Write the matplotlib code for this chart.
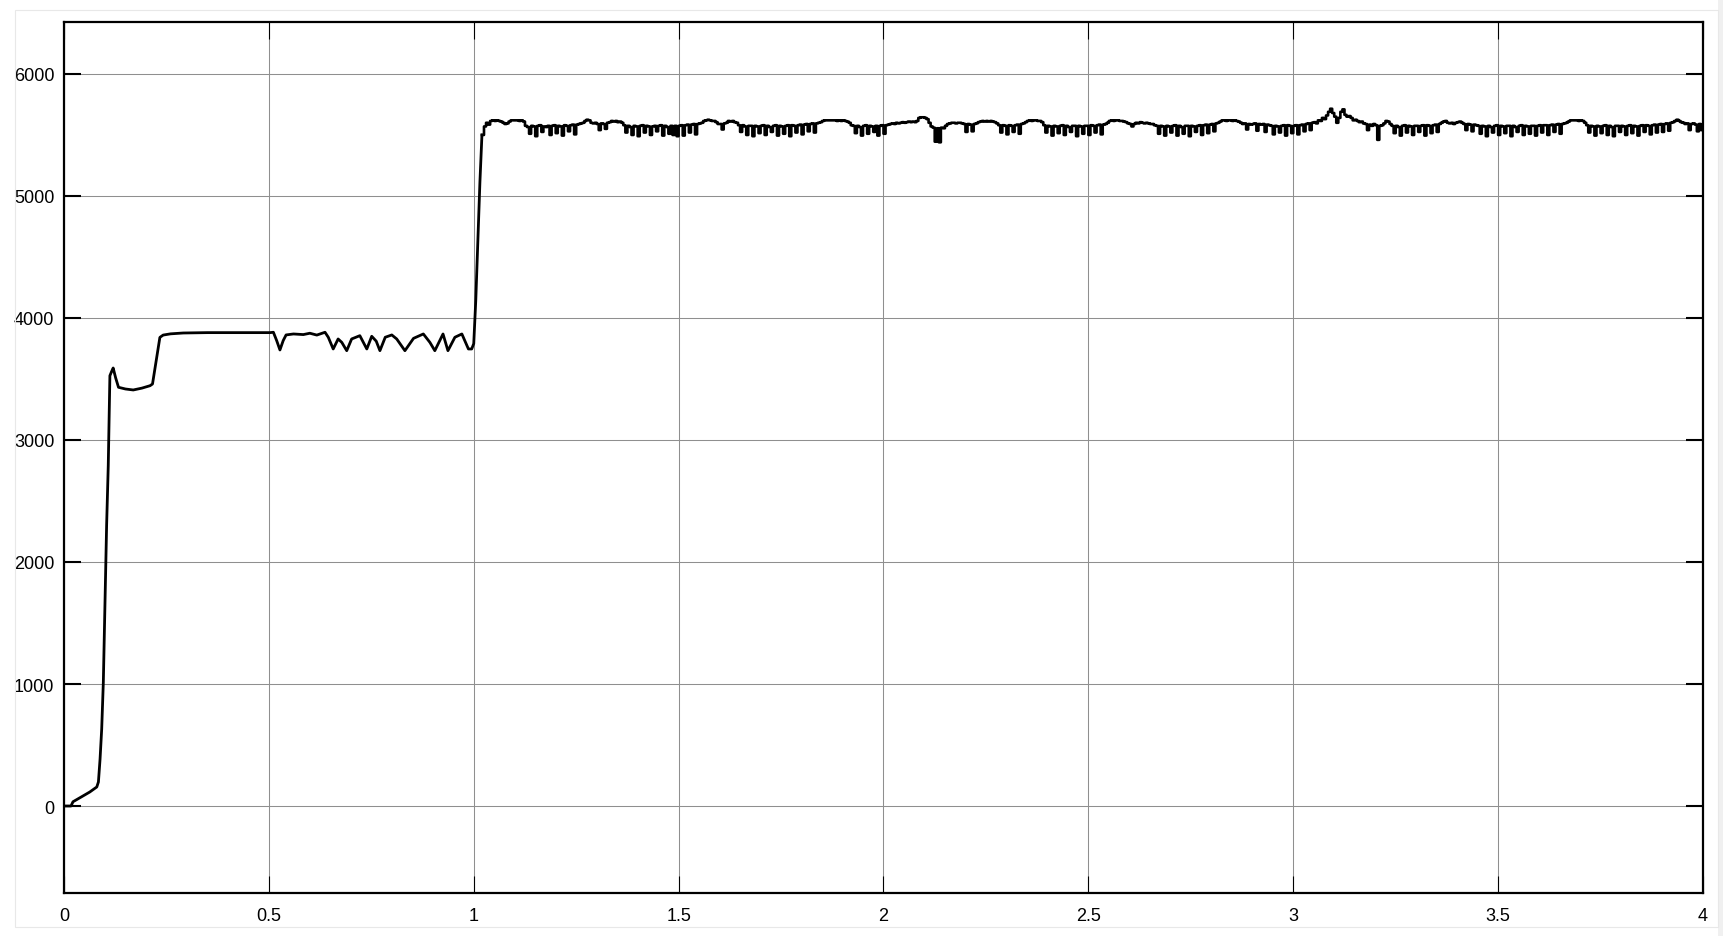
import numpy as np
import matplotlib
matplotlib.use('Agg')
import matplotlib.pyplot as plt
from matplotlib.patches import Rectangle

# start-up part of the response (time in s, value)
t_start = [0, 0.017, 0.022, 0.04, 0.063, 0.08, 0.084, 0.088, 0.092, 0.096, 0.099,
           0.104, 0.108, 0.112, 0.116, 0.120, 0.126, 0.133, 0.15, 0.169, 0.19,
           0.21, 0.216, 0.225, 0.234, 0.242, 0.26, 0.291, 0.35, 0.40, 0.45, 0.503]
v_start = [0, 0, 35, 70, 115, 156, 197, 385, 631, 1016, 1500,
           2300, 2789, 3527, 3560, 3590, 3510, 3432, 3418, 3410, 3425,
           3445, 3459, 3650, 3841, 3860, 3870, 3877, 3880, 3880, 3880, 3880]

# 0.5 .. 1.0 s ripple
t_ripple = [0.511, 0.519, 0.527, 0.535, 0.542, 0.560, 0.584, 0.600, 0.617, 0.637,
            0.645, 0.657, 0.669, 0.678, 0.690, 0.702, 0.722, 0.739, 0.751, 0.762,
            0.771, 0.784, 0.800, 0.812, 0.832, 0.853, 0.877, 0.893, 0.905, 0.925,
            0.937, 0.954, 0.971, 0.987, 0.995, 1.0, 1.005, 1.010, 1.015, 1.020]
v_ripple = [3883, 3815, 3738, 3815, 3861, 3869, 3864, 3875, 3860, 3883,
            3842, 3746, 3828, 3800, 3732, 3828, 3855, 3746, 3850, 3810,
            3732, 3842, 3861, 3828, 3732, 3833, 3869, 3800, 3732, 3869,
            3732, 3842, 3869, 3746, 3746, 3790, 4150, 4630, 5110, 5500]

# 1.02 .. 4.0 s, held samples every 5 ms
v_high = [
    5500, 5570, 5600, 5585, 5615, 5620, 5615, 5620, 5615, 5610, 5600, 5590, 5595, 5610, 5620, 5620,
    5620, 5620, 5615, 5620, 5610, 5575, 5565, 5510, 5575, 5570, 5490, 5575, 5580, 5525, 5570, 5565, 5575, 5500, 5575, 5580,
    5515, 5575, 5570, 5495, 5580, 5575, 5530, 5580, 5585, 5505, 5585, 5590, 5595, 5600, 5615, 5625, 5620, 5600, 5595, 5600,
    5590, 5540, 5595, 5590, 5550, 5600, 5605, 5615, 5610, 5615, 5605, 5610, 5600, 5580, 5520, 5575, 5565, 5500, 5575, 5570,
    5490, 5575, 5580, 5520, 5575, 5570, 5500, 5570, 5575, 5530, 5575, 5580, 5495, 5575, 5565, 5510, 5575, 5500, 5575, 5490,
    5575, 5580, 5495, 5580, 5585, 5520, 5585, 5590, 5505, 5590, 5595, 5600, 5615, 5620, 5625, 5620, 5615, 5615, 5605, 5590,
    5590, 5545, 5595, 5600, 5615, 5610, 5615, 5605, 5600, 5580, 5525, 5580, 5570, 5500, 5575, 5575, 5490, 5575, 5570, 5515,
    5575, 5580, 5500, 5575, 5565, 5525, 5575, 5580, 5495, 5575, 5570, 5510, 5575, 5580, 5490, 5580, 5575, 5520, 5580, 5585,
    5505, 5585, 5590, 5530, 5590, 5595, 5520, 5595, 5600, 5605, 5615, 5620, 5620, 5620, 5620, 5620, 5620, 5615, 5620, 5615,
    5620, 5615, 5610, 5600, 5580, 5575, 5515, 5575, 5565, 5495, 5575, 5580, 5510, 5575, 5570, 5525, 5575, 5495, 5575, 5580,
    5510, 5580, 5585, 5590, 5595, 5590, 5600, 5595, 5600, 5605, 5600, 5605, 5610, 5605, 5610, 5605, 5615, 5640, 5645, 5645,
    5640, 5630, 5600, 5570, 5560, 5445, 5555, 5440, 5560, 5555, 5575, 5590, 5595, 5600, 5600, 5595, 5600, 5600, 5595, 5590,
    5525, 5590, 5585, 5530, 5590, 5595, 5605, 5610, 5615, 5610, 5615, 5610, 5615, 5610, 5605, 5595, 5580, 5520, 5580, 5575,
    5505, 5580, 5575, 5525, 5580, 5585, 5510, 5590, 5595, 5605, 5615, 5620, 5615, 5620, 5620, 5615, 5615, 5605, 5580, 5520,
    5575, 5570, 5495, 5575, 5570, 5515, 5575, 5580, 5500, 5575, 5565, 5525, 5575, 5575, 5490, 5575, 5570, 5510, 5575, 5575,
    5500, 5580, 5575, 5520, 5580, 5585, 5505, 5585, 5590, 5600, 5615, 5620, 5615, 5620, 5620, 5615, 5615, 5610, 5605, 5595,
    5590, 5570, 5590, 5600, 5595, 5605, 5600, 5595, 5600, 5595, 5590, 5590, 5580, 5575, 5510, 5575, 5570, 5495, 5575, 5570,
    5520, 5575, 5580, 5495, 5575, 5565, 5510, 5575, 5575, 5490, 5575, 5570, 5525, 5575, 5580, 5500, 5580, 5585, 5515, 5585,
    5590, 5530, 5595, 5600, 5610, 5620, 5620, 5615, 5620, 5620, 5615, 5620, 5615, 5610, 5600, 5590, 5595, 5545, 5590, 5585,
    5590, 5595, 5535, 5590, 5585, 5590, 5525, 5585, 5580, 5575, 5505, 5575, 5570, 5520, 5575, 5580, 5495, 5580, 5575, 5515,
    5575, 5580, 5505, 5580, 5585, 5530, 5590, 5595, 5540, 5600, 5605, 5595, 5620, 5615, 5640, 5630, 5660, 5690, 5715, 5680,
    5650, 5600, 5640, 5690, 5710, 5665, 5650, 5655, 5640, 5620, 5625, 5615, 5605, 5610, 5595, 5590, 5540, 5585, 5575, 5590,
    5580, 5460, 5575, 5580, 5595, 5615, 5610, 5590, 5575, 5515, 5575, 5565, 5495, 5575, 5580, 5520, 5575, 5570, 5500, 5575,
    5575, 5525, 5575, 5580, 5495, 5580, 5575, 5515, 5580, 5585, 5525, 5590, 5600, 5610, 5615, 5600, 5595, 5600, 5590, 5600,
    5605, 5610, 5600, 5590, 5540, 5590, 5585, 5530, 5585, 5580, 5575, 5510, 5575, 5570, 5490, 5575, 5565, 5520, 5575, 5580,
    5500, 5575, 5570, 5515, 5575, 5575, 5490, 5575, 5565, 5525, 5575, 5580, 5500, 5575, 5570, 5510, 5575, 5575, 5495, 5575,
    5580, 5520, 5580, 5580, 5500, 5580, 5585, 5525, 5585, 5590, 5510, 5590, 5595, 5600, 5610, 5620, 5620, 5620, 5620, 5615,
    5620, 5615, 5600, 5580, 5520, 5575, 5570, 5495, 5575, 5570, 5515, 5575, 5580, 5500, 5575, 5565, 5490, 5575, 5575, 5525,
    5575, 5570, 5500, 5575, 5580, 5515, 5575, 5570, 5495, 5575, 5580, 5525, 5580, 5575, 5505, 5580, 5585, 5520, 5585, 5590,
    5525, 5590, 5595, 5535, 5600, 5605, 5615, 5625, 5615, 5605, 5600, 5590, 5595, 5540, 5590, 5595, 5585, 5530, 5590, 5540,
    5580,
]
t_high = np.linspace(1.02, 4.0, len(v_high))

x_ticks = [0, 0.5, 1, 1.5, 2, 2.5, 3, 3.5, 4]
x_labels = ['0', '0.5', '1', '1.5', '2', '2.5', '3', '3.5', '4']
y_ticks = [0, 1000, 2000, 3000, 4000, 5000, 6000]
y_labels = ['0', '1000', '2000', '3000', '4000', '5000', '6000']

plt.rcParams['font.family'] = ['Liberation Sans', 'DejaVu Sans']

fig = plt.figure(figsize=(17.24, 9.37), dpi=100)
fig.patches.append(Rectangle((1718 / 1724, 0), 6 / 1724, 1, transform=fig.transFigure,
                             facecolor='#f0f0f0', edgecolor='none', zorder=0))
fig.patches.append(Rectangle((15 / 1724, 9 / 937), 1703 / 1724, 917 / 937, transform=fig.transFigure,
                             facecolor='none', edgecolor='#e8e8e8', lw=0.8, zorder=0))
ax = fig.add_axes([64 / 1724, 43 / 937, 1639 / 1724, 871 / 937])

ax.plot(list(t_start) + list(t_ripple), list(v_start) + list(v_ripple),
        color='black', lw=2.0)
ax.plot(t_high, v_high, color='black', lw=1.9, drawstyle='steps-post')

ax.set_xlim(0, 4)
ax.set_ylim(-713, 6426)
ax.set_xticks(x_ticks)
ax.set_xticklabels(x_labels)
ax.set_yticks(y_ticks)
ax.set_yticklabels(y_labels)

ax.grid(True, color='#8f8f8f', lw=0.75)
ax.set_axisbelow(True)

for s in ax.spines.values():
    s.set_linewidth(1.6)
ax.tick_params(axis='y', which='both', direction='in', left=True, right=True,
               length=12, width=1.5, pad=7, labelsize=13)
ax.tick_params(axis='x', which='both', direction='in', top=True, bottom=True,
               length=12, width=0.8, pad=10, labelsize=13)

fig.savefig('out.png', dpi=100)
